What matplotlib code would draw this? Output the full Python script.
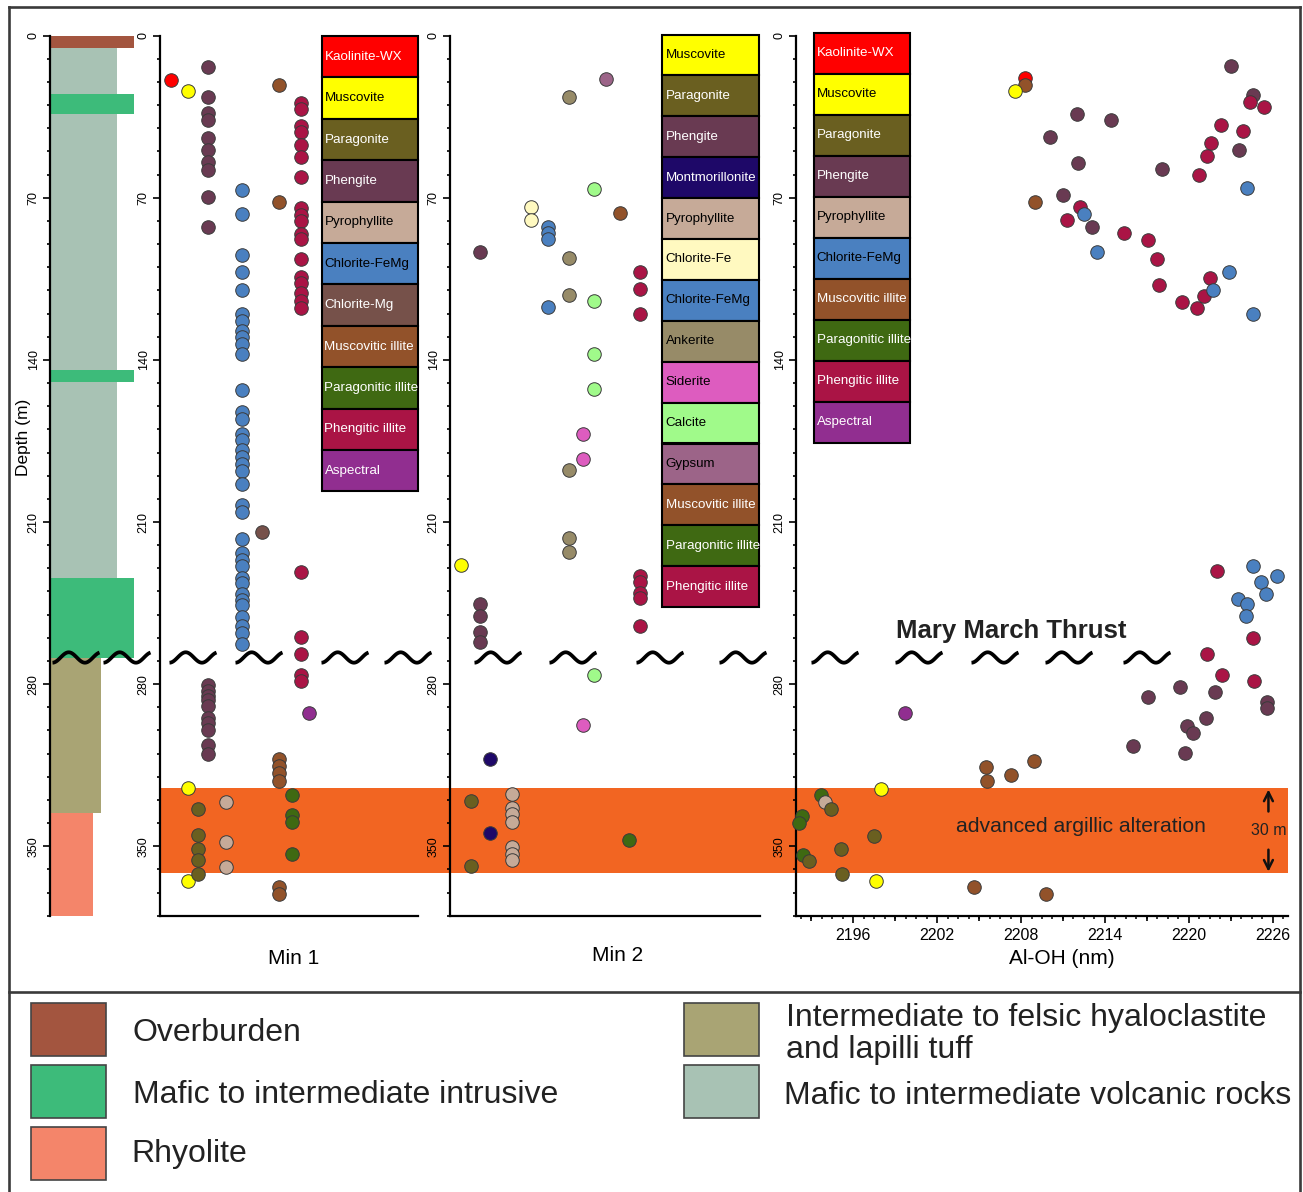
"""
Downhole log: lithology, SWIR mineralogy (Min 1 / Min 2) and Al-OH position vs depth.
"""
import numpy as np
import matplotlib.pyplot as plt
from matplotlib.patches import Rectangle
from matplotlib.lines import Line2D
from matplotlib.ticker import MultipleLocator, NullLocator
import matplotlib.transforms as mtrans

plt.rcParams["font.family"] = ["Liberation Sans", "DejaVu Sans"]

W, H = 1303, 1192
DEPTH_MAX = 380
THRUST_DEPTH = 268.5
AA_TOP, AA_BASE = 325.0, 361.5

# ---- lithology log (top, base in m; relative column width) ----
LITH_NAMES = ["Overburden", "Mafic to intermediate volcanic rocks",
              "Mafic to intermediate intrusive", "Mafic to intermediate intrusive",
              "Mafic to intermediate intrusive",
              "Intermediate to felsic hyaloclastite\nand lapilli tuff", "Rhyolite"]
LITH_TOP = [0, 5.5, 25.2, 144.4, 234.1, 268.7, 335.6]
LITH_BASE = [5.5, 234.1, 33.7, 149.5, 268.7, 335.6, 380.0]
LITH_WIDTH = [1.0, 0.794, 1.0, 1.0, 1.0, 0.607, 0.508]

# ---- Min 1 ----
m1_kaolinite = [19]
m1_muscovite = [24, 325, 365]
m1_paragonite = [334, 345, 351, 356, 362]
m1_phengite = [13.5, 26.5, 33.5, 36.5, 44, 49.5, 54.5, 58, 69.5, 82.5,
               280.5, 283, 285, 287, 289.5, 294.5, 297, 300, 306.5, 310]
m1_pyrophyllite = [331, 348, 359]
m1_chlorite_femg = [66.5, 77, 94.5, 102, 110, 120, 123, 127.5, 130, 133, 137.5,
                    153, 162.5, 165.5, 172, 174.5, 179, 182, 185, 188, 193.5,
                    202.5, 205.5, 217.5, 223.5, 226.5, 229, 234, 236.5, 241,
                    243.5, 246, 251, 255, 258, 262.5]
m1_chlorite_mg = [214.5]
m1_musc_illite = [21.5, 72, 312.5, 315.5, 318.5, 322, 367.5, 370.5]
m1_parag_illite = [328, 336.5, 339.5, 353.5]
m1_phengitic_illite = [29, 31.5, 39, 41.5, 47, 52.5, 61, 74.5, 77.5, 80, 85.5, 88,
                       96.5, 104, 107, 111, 114.5, 117.5, 231.5, 259.5, 267, 276, 278.5]
m1_aspectral = [292.5]

MIN1_KEY = ["Kaolinite-WX", "Muscovite", "Paragonite", "Phengite", "Pyrophyllite",
            "Chlorite-FeMg", "Chlorite-Mg", "Muscovitic illite", "Paragonitic illite",
            "Phengitic illite", "Aspectral"]
MIN1_COLUMN = [11, 28, 38, 48, 66, 82, 102, 119, 132, 141, 149]
MIN1_DEPTHS = [m1_kaolinite, m1_muscovite, m1_paragonite, m1_phengite, m1_pyrophyllite,
               m1_chlorite_femg, m1_chlorite_mg, m1_musc_illite, m1_parag_illite,
               m1_phengitic_illite, m1_aspectral]

# ---- Min 2 ----
m2_muscovite = [228.5]
m2_paragonite = [330.5, 358.5]
m2_phengite = [93.5, 245.5, 250.5, 257.5, 262]
m2_montmorillonite = [312.5, 344.5]
m2_pyrophyllite = [327.5, 333.5, 336, 339.5, 350.5, 353.5, 356]
m2_chlorite_fe = [74, 79.5]
m2_chlorite_femg = [82.5, 85, 88, 117]
m2_ankerite = [26.5, 96, 112, 187.5, 217, 223]
m2_siderite = [172, 183, 297.5]
m2_calcite = [66, 114.5, 137.5, 152.5, 276]
m2_gypsum = [18.5]
m2_musc_illite = [76.5]
m2_parag_illite = [347.5]
m2_phengitic_illite = [102, 109.5, 120, 233.5, 236, 240.5, 243, 255]

MIN2_KEY = ["Muscovite", "Paragonite", "Phengite", "Montmorillonite", "Pyrophyllite",
            "Chlorite-Fe", "Chlorite-FeMg", "Ankerite", "Siderite", "Calcite", "Gypsum",
            "Muscovitic illite", "Paragonitic illite", "Phengitic illite"]
MIN2_COLUMN = [10.7, 21, 30.3, 40, 62, 80.7, 97.7, 119.3, 133.3, 144, 155.7,
               170, 179.3, 189.7]
MIN2_DEPTHS = [m2_muscovite, m2_paragonite, m2_phengite, m2_montmorillonite,
               m2_pyrophyllite, m2_chlorite_fe, m2_chlorite_femg, m2_ankerite,
               m2_siderite, m2_calcite, m2_gypsum, m2_musc_illite, m2_parag_illite,
               m2_phengitic_illite]

# ---- Al-OH absorption position (nm) and depth (m) ----
al_kaolinite_nm = [2208.3]
al_kaolinite_d = [18.3]
al_musc_illite_nm = [2208.25, 2209.0, 2205.5, 2205.6, 2207.3, 2208.9, 2204.6, 2209.8]
al_musc_illite_d = [21.2, 71.6, 316.0, 321.8, 319.2, 313.1, 367.7, 370.6]
al_muscovite_nm = [2207.6, 2198.0, 2197.6]
al_muscovite_d = [23.7, 325.4, 365.1]
al_phengite_nm = [2223.0, 2224.6, 2212.0, 2214.45, 2210.05, 2223.6, 2212.05, 2218.1,
                  2211.0, 2213.1, 2219.4, 2217.1, 2221.9, 2225.6, 2225.6, 2221.2,
                  2219.85, 2220.3, 2216.0, 2219.7]
al_phengite_d = [13.1, 25.8, 33.8, 36.4, 43.6, 49.2, 54.9, 57.7, 68.7, 82.4, 281.1,
                 285.5, 283.5, 287.9, 290.3, 294.8, 298.0, 300.9, 306.9, 309.8]
al_phengitic_illite_nm = [2224.4, 2225.4, 2222.3, 2223.85, 2221.6, 2221.3, 2220.7,
                          2212.2, 2211.3, 2215.4, 2217.1, 2217.7, 2221.5, 2217.9,
                          2221.1, 2219.5, 2220.6, 2222.0, 2224.6, 2221.3, 2222.4, 2224.7]
al_phengitic_illite_d = [28.7, 30.9, 38.7, 41.1, 46.3, 52.1, 60.2, 74.1, 79.7, 85.3,
                         88.2, 96.3, 104.5, 107.5, 112.3, 114.8, 117.4, 231.3, 260.0,
                         267.2, 276.2, 278.6]
al_chlorite_femg_nm = [2224.2, 2212.5, 2213.4, 2222.9, 2221.75, 2224.6, 2224.6, 2226.3,
                       2225.2, 2225.5, 2223.5, 2224.2, 2224.1]
al_chlorite_femg_d = [65.8, 76.8, 93.5, 101.9, 110.0, 120.1, 229.1, 233.4, 236.0,
                      240.9, 243.4, 245.6, 250.6]
al_aspectral_nm = [2199.7]
al_aspectral_d = [292.5]
al_parag_illite_nm = [2193.7, 2192.3, 2192.1, 2192.4]
al_parag_illite_d = [328.0, 336.9, 339.8, 353.8]
al_pyrophyllite_nm = [2194.0]
al_pyrophyllite_d = [330.9]
al_paragonite_nm = [2194.4, 2197.5, 2195.1, 2192.8, 2195.2]
al_paragonite_d = [334.1, 345.5, 351.2, 356.4, 361.9]

ALOH_KEY = ["Kaolinite-WX", "Muscovite", "Paragonite", "Phengite", "Pyrophyllite",
            "Chlorite-FeMg", "Muscovitic illite", "Paragonitic illite",
            "Phengitic illite", "Aspectral"]
ALOH_SERIES = [
    ("Paragonitic illite", al_parag_illite_nm, al_parag_illite_d),
    ("Pyrophyllite", al_pyrophyllite_nm, al_pyrophyllite_d),
    ("Paragonite", al_paragonite_nm, al_paragonite_d),
    ("Kaolinite-WX", al_kaolinite_nm, al_kaolinite_d),
    ("Muscovitic illite", al_musc_illite_nm, al_musc_illite_d),
    ("Muscovite", al_muscovite_nm, al_muscovite_d),
    ("Phengite", al_phengite_nm, al_phengite_d),
    ("Phengitic illite", al_phengitic_illite_nm, al_phengitic_illite_d),
    ("Chlorite-FeMg", al_chlorite_femg_nm, al_chlorite_femg_d),
    ("Aspectral", al_aspectral_nm, al_aspectral_d),
]

MINERAL_COLORS = {
    "Kaolinite-WX": "#FF0000", "Muscovite": "#FFFF00", "Paragonite": "#6A5F20",
    "Phengite": "#693A52", "Pyrophyllite": "#C6AA98", "Chlorite-FeMg": "#4A80C0",
    "Chlorite-Mg": "#76514A", "Muscovitic illite": "#92522A",
    "Paragonitic illite": "#3F6912", "Phengitic illite": "#AA1445",
    "Aspectral": "#912E90", "Montmorillonite": "#1E0868", "Chlorite-Fe": "#FFF9C0",
    "Ankerite": "#978B68", "Siderite": "#DD5CBF", "Calcite": "#A0FA8A",
    "Gypsum": "#9C6488",
}
DARK_LABEL = {"Muscovite", "Pyrophyllite", "Chlorite-FeMg", "Chlorite-Fe",
              "Ankerite", "Siderite", "Calcite", "Gypsum"}
LITH_COLORS = {
    "Overburden": "#A3553F",
    "Mafic to intermediate intrusive": "#3DBB7A",
    "Rhyolite": "#F4856A",
    "Intermediate to felsic hyaloclastite\nand lapilli tuff": "#A9A474",
    "Mafic to intermediate volcanic rocks": "#A8C2B4",
}
BAND_COLOR = "#F26522"
LINE_COLOR = "#3a3a3a"

# squiggle break marks along the thrust (x centres, px)
SQUIGGLE_X = [76, 127, 193, 259, 345, 408, 498, 573, 660, 743, 835, 919, 995, 1069, 1147]


def fx(x):
    return x / W


def fy(y):
    return 1 - y / H


fig = plt.figure(figsize=(W / 100, H / 100), dpi=100)


def depth_axes(left, right, bottom_spine=True):
    ax = fig.add_axes([fx(left), fy(915.7), (right - left) / W, 880 / H])
    ax.set_ylim(DEPTH_MAX, 0)
    ax.patch.set_visible(False)
    ax.spines["top"].set_visible(False)
    ax.spines["right"].set_visible(False)
    ax.spines["bottom"].set_visible(bottom_spine)
    for s in ("left", "bottom"):
        ax.spines[s].set_linewidth(1.6)
    ax.set_yticks(np.arange(0, 351, 70))
    ax.set_yticklabels([str(v) for v in range(0, 351, 70)], rotation=90, va="center")
    ax.yaxis.set_minor_locator(MultipleLocator(10))
    ax.tick_params(axis="y", which="major", length=5, width=1.2, labelsize=9, pad=2.5)
    ax.tick_params(axis="y", which="minor", length=2.3, width=1.2)
    ax.tick_params(axis="x", which="both", bottom=False, labelbottom=False)
    return ax


# lithology column
ax_l = depth_axes(50, 134, bottom_spine=False)
ax_l.set_xlim(0, 1)
for name, top, base, w in zip(LITH_NAMES, LITH_TOP, LITH_BASE, LITH_WIDTH):
    ax_l.barh(top, w, height=base - top, left=0, align="edge",
              color=LITH_COLORS[name], linewidth=0, zorder=2)
fig.text(fx(24), fy(437), "Depth (m)", rotation=90, ha="center", va="center",
         fontsize=12.5)


def column_panel(left, right, key, columns, depths):
    ax = depth_axes(left, right)
    ax.set_xlim(0, right - left)
    for name, col, d in zip(key, columns, depths):
        ax.scatter([col] * len(d), d, s=95, color=MINERAL_COLORS[name],
                   edgecolors=LINE_COLOR, linewidths=0.7, zorder=3, clip_on=False)
    return ax


ax1 = column_panel(160, 418, MIN1_KEY, MIN1_COLUMN, MIN1_DEPTHS)
ax2 = column_panel(450, 760, MIN2_KEY, MIN2_COLUMN, MIN2_DEPTHS)

# Al-OH panel
ax3 = depth_axes(796, 1288)
ax3.set_xlim(2191.9, 2227.1)
for name, nm, d in ALOH_SERIES:
    ax3.scatter(nm, d, s=95, color=MINERAL_COLORS[name], edgecolors=LINE_COLOR,
                linewidths=0.7, zorder=3, clip_on=False)
ax3.set_xticks(np.arange(2196, 2227, 6))
ax3.xaxis.set_minor_locator(MultipleLocator(0.75))
ax3.tick_params(axis="x", which="major", bottom=True, labelbottom=True, length=5,
                width=1.2, labelsize=11.5, pad=4)
ax3.tick_params(axis="x", which="minor", bottom=True, length=2, width=1.1)
sec = ax3.secondary_xaxis("bottom")
sec.set_xticks(np.arange(2193, 2227, 6))
sec.xaxis.set_minor_locator(NullLocator())
sec.tick_params(axis="x", length=3.8, width=1.2, labelbottom=False)
sec.spines["bottom"].set_visible(False)

ax3.text(2207.3, 257.0, "Mary March Thrust", fontsize=18.5, fontweight="bold",
         ha="center", va="center", color="#222222")
ax3.text(2212.3, 341.5, "advanced argillic alteration", fontsize=15.2,
         ha="center", va="center", color="#222222")
ax3.text(2225.7, 343.0, "30 m", fontsize=11.5, ha="center", va="center", color="#222222")
ax3.annotate("", xy=(2225.7, AA_TOP + 0.5), xytext=(2225.7, 335.0),
             arrowprops=dict(arrowstyle="->", lw=1.8, color="#111111",
                             mutation_scale=16, shrinkA=0, shrinkB=0))
ax3.annotate("", xy=(2225.7, AA_BASE - 0.5), xytext=(2225.7, 351.5),
             arrowprops=dict(arrowstyle="->", lw=1.8, color="#111111",
                             mutation_scale=16, shrinkA=0, shrinkB=0))

# advanced argillic alteration band across the three data panels
band_tr = mtrans.blended_transform_factory(fig.transFigure, ax1.transData)
fig.add_artist(Rectangle((fx(160), AA_TOP), fx(1288) - fx(160), AA_BASE - AA_TOP,
                         transform=band_tr, facecolor=BAND_COLOR, edgecolor="none",
                         zorder=-1))

# thrust break marks
yc = ax1.transData.transform((0, THRUST_DEPTH))[1]
t = np.linspace(0, 1, 60)
theta = -0.5 * np.pi + 2.9 * np.pi * t
for xc in SQUIGGLE_X:
    xs = (xc - 23.5 + 47 * t) / W
    ys = (yc + 5.2 * np.sin(theta)) / H
    fig.add_artist(Line2D(xs, ys, transform=fig.transFigure, color="black",
                          lw=2.7, solid_capstyle="butt", zorder=5))


# colour keys inside the panels
def colour_key(names, x0, x1, ytop, h):
    for i, name in enumerate(names):
        y0 = ytop + i * h
        fig.add_artist(Rectangle((fx(x0), fy(y0 + h)), (x1 - x0) / W, h / H,
                                 transform=fig.transFigure,
                                 facecolor=MINERAL_COLORS[name], edgecolor="black",
                                 lw=1.5, zorder=6))
        fig.text(fx(x0 + 3), fy(y0 + h / 2), name, fontsize=9.6, ha="left",
                 va="center", color="black" if name in DARK_LABEL else "white",
                 zorder=7)


colour_key(MIN1_KEY, 321.5, 417.5, 36, 41.4)
colour_key(MIN2_KEY, 662.5, 759, 34.5, 40.9)
colour_key(ALOH_KEY, 813.5, 910, 32.5, 41.0)

fig.text(fx(294), fy(958.5), "Min 1", fontsize=15, ha="center", va="center")
fig.text(fx(618), fy(955.5), "Min 2", fontsize=15, ha="center", va="center")
fig.text(fx(1062), fy(958.5), "Al-OH (nm)", fontsize=15, ha="center", va="center")

# frame and lithology legend
for xs, ys in [([8.5, 8.5], [1192, 7]), ([8.5, 1299.5], [7, 7]),
               ([1299.5, 1299.5], [7, 1192]), ([8.5, 1299.5], [992, 992])]:
    fig.add_artist(Line2D([fx(v) for v in xs], [fy(v) for v in ys],
                          transform=fig.transFigure, color=LINE_COLOR, lw=1.9))

legend_items = [
    ("Overburden", 31, 1003, 133, 1033),
    ("Mafic to intermediate intrusive", 31, 1065, 133, 1095),
    ("Rhyolite", 31, 1127, 131, 1154),
    ("Intermediate to felsic hyaloclastite\nand lapilli tuff", 684, 1003, 786, 1034),
    ("Mafic to intermediate volcanic rocks", 684, 1065, 784, 1096),
]
for name, bx, by, tx, ty in legend_items:
    fig.add_artist(Rectangle((fx(bx), fy(by + 53)), 75 / W, 53 / H,
                             transform=fig.transFigure, facecolor=LITH_COLORS[name],
                             edgecolor="#444444", lw=1.2))
    fig.text(fx(tx), fy(ty), name, fontsize=23, ha="left", va="center",
             color="#222222", linespacing=1.12)

fig.savefig("out.png", dpi=100)
